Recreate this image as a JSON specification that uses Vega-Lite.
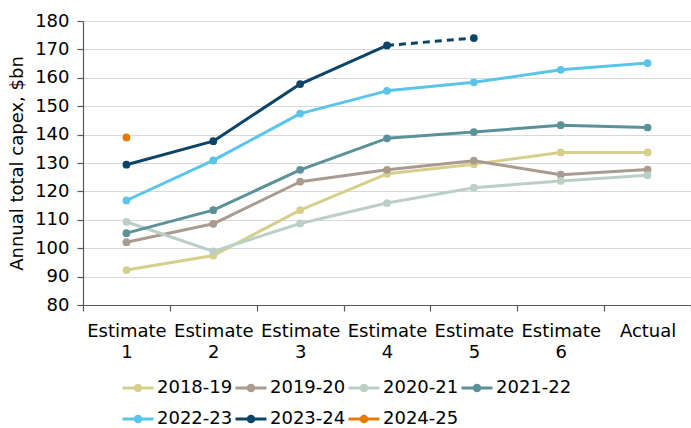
{
  "$schema": "https://vega.github.io/schema/vega-lite/v6.json",
  "width": 608,
  "height": 284,
  "autosize": {"type": "none"},
  "padding": {"left": 83, "top": 21, "right": 0, "bottom": 123},
  "background": "white",
  "config": {
    "font": "DejaVu Sans",
    "view": {"stroke": null},
    "axis": {"labelFont": "DejaVu Sans", "titleFont": "DejaVu Sans", "labelColor": "#000000", "titleColor": "#000000", "labelFontSize": 18, "titleFontSize": 18, "titleFontWeight": "normal", "domainColor": "#595959", "tickColor": "#595959", "domainWidth": 1.2, "tickWidth": 1.2}
  },
  "data": {
    "values": [
      {"year": "2018-19", "stage": "Estimate 1", "capex": 92.3},
      {"year": "2018-19", "stage": "Estimate 2", "capex": 97.4},
      {"year": "2018-19", "stage": "Estimate 3", "capex": 113.4},
      {"year": "2018-19", "stage": "Estimate 4", "capex": 126.2},
      {"year": "2018-19", "stage": "Estimate 5", "capex": 129.6},
      {"year": "2018-19", "stage": "Estimate 6", "capex": 133.7},
      {"year": "2018-19", "stage": "Actual", "capex": 133.7},
      {"year": "2019-20", "stage": "Estimate 1", "capex": 102.1},
      {"year": "2019-20", "stage": "Estimate 2", "capex": 108.6},
      {"year": "2019-20", "stage": "Estimate 3", "capex": 123.4},
      {"year": "2019-20", "stage": "Estimate 4", "capex": 127.6},
      {"year": "2019-20", "stage": "Estimate 5", "capex": 130.8},
      {"year": "2019-20", "stage": "Estimate 6", "capex": 125.9},
      {"year": "2019-20", "stage": "Actual", "capex": 127.7},
      {"year": "2020-21", "stage": "Estimate 1", "capex": 109.3},
      {"year": "2020-21", "stage": "Estimate 2", "capex": 98.9},
      {"year": "2020-21", "stage": "Estimate 3", "capex": 108.7},
      {"year": "2020-21", "stage": "Estimate 4", "capex": 115.9},
      {"year": "2020-21", "stage": "Estimate 5", "capex": 121.3},
      {"year": "2020-21", "stage": "Estimate 6", "capex": 123.7},
      {"year": "2020-21", "stage": "Actual", "capex": 125.7},
      {"year": "2021-22", "stage": "Estimate 1", "capex": 105.3},
      {"year": "2021-22", "stage": "Estimate 2", "capex": 113.4},
      {"year": "2021-22", "stage": "Estimate 3", "capex": 127.6},
      {"year": "2021-22", "stage": "Estimate 4", "capex": 138.7},
      {"year": "2021-22", "stage": "Estimate 5", "capex": 140.9},
      {"year": "2021-22", "stage": "Estimate 6", "capex": 143.3},
      {"year": "2021-22", "stage": "Actual", "capex": 142.5},
      {"year": "2022-23", "stage": "Estimate 1", "capex": 116.8},
      {"year": "2022-23", "stage": "Estimate 2", "capex": 130.9},
      {"year": "2022-23", "stage": "Estimate 3", "capex": 147.4},
      {"year": "2022-23", "stage": "Estimate 4", "capex": 155.4},
      {"year": "2022-23", "stage": "Estimate 5", "capex": 158.4},
      {"year": "2022-23", "stage": "Estimate 6", "capex": 162.8},
      {"year": "2022-23", "stage": "Actual", "capex": 165.2},
      {"year": "2023-24", "stage": "Estimate 1", "capex": 129.4},
      {"year": "2023-24", "stage": "Estimate 2", "capex": 137.7},
      {"year": "2023-24", "stage": "Estimate 3", "capex": 157.8},
      {"year": "2023-24", "stage": "Estimate 4", "capex": 171.4},
      {"year": "2023-24", "stage": "Estimate 5", "capex": 174.0},
      {"year": "2024-25", "stage": "Estimate 1", "capex": 139.0}
    ]
  },
  "encoding": {
    "x": {
      "field": "stage", "type": "nominal",
      "sort": ["Estimate 1", "Estimate 2", "Estimate 3", "Estimate 4", "Estimate 5", "Estimate 6", "Actual"],
      "scale": {"type": "band", "domain": ["Estimate 1", "Estimate 2", "Estimate 3", "Estimate 4", "Estimate 5", "Estimate 6", "Actual"], "paddingInner": 0, "paddingOuter": 0},
      "axis": {"title": null, "labelAngle": 0, "tickBand": "extent", "tickSize": 6, "labelPadding": 11, "labelLineHeight": 21, "labelBaseline": "top", "labelExpr": "split(datum.label, ' ')", "grid": false}
    },
    "y": {
      "field": "capex", "type": "quantitative",
      "scale": {"domain": [80, 180], "nice": false, "zero": false},
      "axis": {"title": "Annual total capex, $bn", "values": [80, 90, 100, 110, 120, 130, 140, 150, 160, 170, 180], "tickSize": 6, "labelPadding": 8, "grid": true, "gridColor": "#d9d9d9", "gridWidth": 1.2, "titleX": -66, "titleY": 142, "titleAngle": -90, "titleAlign": "center", "titleBaseline": "middle"}
    },
    "color": {
      "field": "year", "type": "nominal",
      "scale": {"domain": ["2018-19", "2019-20", "2020-21", "2021-22", "2022-23", "2023-24", "2024-25"], "range": ["#d6cf8c", "#a99b8f", "#bccfc6", "#5b929a", "#5bc4ea", "#0b4468", "#e57c00"]},
      "legend": {
        "title": null, "orient": "none", "legendX": 38, "legendY": 350, "direction": "horizontal", "columns": 4,
        "columnPadding": -4, "rowPadding": 5, "labelFont": "DejaVu Sans", "labelFontSize": 18, "labelColor": "#000000", "labelOffset": 2,
        "symbolType": "M-1,0H1M-0.18,0A0.18,0.18,0,1,0,0.18,0A0.18,0.18,0,1,0,-0.18,0Z",
        "symbolSize": 961, "symbolStrokeWidth": 3, "symbolOffset": 0,
        "encode": {"symbols": {"update": {"fill": {"scale": "color", "field": "value"}, "stroke": {"scale": "color", "field": "value"}, "strokeWidth": {"value": 3}, "opacity": {"value": 1}}}}
      }
    }
  },
  "layer": [
    {
      "transform": [{"filter": "!(datum.year == '2023-24' && datum.stage == 'Estimate 5')"}],
      "mark": {"type": "line", "strokeWidth": 3, "strokeJoin": "round"}
    },
    {
      "transform": [{"filter": "datum.year == '2023-24' && (datum.stage == 'Estimate 4' || datum.stage == 'Estimate 5')"}],
      "mark": {"type": "line", "strokeWidth": 3, "strokeDash": [7, 5]}
    },
    {
      "mark": {"type": "point", "filled": true, "size": 60, "opacity": 1}
    }
  ]
}
